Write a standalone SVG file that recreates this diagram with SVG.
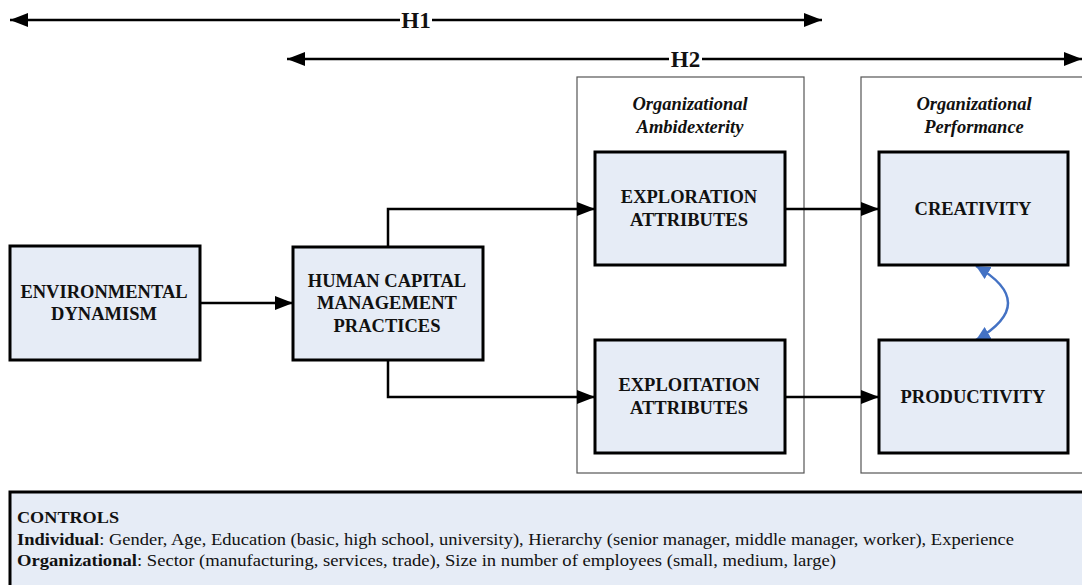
<svg xmlns="http://www.w3.org/2000/svg" width="1082" height="585" viewBox="0 0 1082 585">
<defs>
<marker id="ah" markerUnits="userSpaceOnUse" markerWidth="20" markerHeight="14" refX="18" refY="7" orient="auto-start-reverse">
<path d="M0,0 L18,7 L0,14 Z" fill="#000"/>
</marker>
<marker id="bh" markerUnits="userSpaceOnUse" markerWidth="16" markerHeight="14" refX="14" refY="7" orient="auto-start-reverse">
<path d="M0,0 L14,7 L0,14 Z" fill="#4472C4"/>
</marker>
</defs>
<style>
.box{fill:#E6ECF6;stroke:#000;stroke-width:3}
.cont{fill:none;stroke:#555;stroke-width:1.2}
.t{font-family:"Liberation Serif","Times New Roman",serif;font-weight:bold;font-size:18.5px;text-anchor:middle;fill:#111}
.it{font-family:"Liberation Serif","Times New Roman",serif;font-weight:bold;font-style:italic;font-size:18.5px;text-anchor:middle;fill:#111}
.c{font-family:"Liberation Serif","Times New Roman",serif;font-size:17px;fill:#111}
.ln{fill:none;stroke:#000;stroke-width:2.5}
.h{font-family:"Liberation Serif","Times New Roman",serif;font-weight:bold;font-size:23px;text-anchor:middle;fill:#111}
</style>
<g id="containers">
<rect class="cont" x="577" y="77" width="227" height="396"/>
<rect class="cont" x="861" y="77" width="230" height="396"/>
<text class="it" x="690" y="110">Organizational</text>
<text class="it" x="690" y="133">Ambidexterity</text>
<text class="it" x="974" y="110">Organizational</text>
<text class="it" x="974" y="133">Performance</text>
</g>
<g id="connectors">
<line class="ln" x1="10" y1="20" x2="822" y2="20" marker-start="url(#ah)" marker-end="url(#ah)"/>
<line class="ln" x1="287" y1="59" x2="1082" y2="59" marker-start="url(#ah)" marker-end="url(#ah)"/>
<line class="ln" x1="200" y1="303" x2="293" y2="303" marker-end="url(#ah)"/>
<polyline class="ln" points="388,247 388,209 595,209" marker-end="url(#ah)"/>
<polyline class="ln" points="388,360 388,397 595,397" marker-end="url(#ah)"/>
<line class="ln" x1="785" y1="209" x2="879" y2="209" marker-end="url(#ah)"/>
<line class="ln" x1="785" y1="397" x2="879" y2="397" marker-end="url(#ah)"/>
<path d="M976,266 Q1040,303 976,340" fill="none" stroke="#4472C4" stroke-width="2.5" marker-start="url(#bh)" marker-end="url(#bh)"/>
</g>
<g id="labels">
<rect x="400" y="8" width="32" height="24" fill="#fff"/>
<text class="h" x="416" y="28">H1</text>
<rect x="669" y="47" width="33" height="24" fill="#fff"/>
<text class="h" x="685.5" y="67">H2</text>
</g>
<g id="env">
<rect class="box" x="10" y="246" width="190" height="114"/>
<text class="t" x="104" y="298">ENVIRONMENTAL</text>
<text class="t" x="104" y="319.5">DYNAMISM</text>
</g>
<g id="hcm">
<rect class="box" x="293" y="247" width="190" height="113"/>
<text class="t" x="387" y="287">HUMAN CAPITAL</text>
<text class="t" x="387" y="309">MANAGEMENT</text>
<text class="t" x="387" y="332">PRACTICES</text>
</g>
<g id="exploration">
<rect class="box" x="595" y="152" width="190" height="113"/>
<text class="t" x="689" y="203">EXPLORATION</text>
<text class="t" x="689" y="226">ATTRIBUTES</text>
</g>
<g id="exploitation">
<rect class="box" x="595" y="340" width="190" height="113"/>
<text class="t" x="689" y="391">EXPLOITATION</text>
<text class="t" x="689" y="414">ATTRIBUTES</text>
</g>
<g id="creativity">
<rect class="box" x="879" y="152" width="189" height="113"/>
<text class="t" x="973" y="215">CREATIVITY</text>
</g>
<g id="productivity">
<rect class="box" x="879" y="340" width="189" height="113"/>
<text class="t" x="973" y="403">PRODUCTIVITY</text>
</g>
<g id="controls">
<rect class="box" x="10" y="492" width="1085" height="100"/>
<text class="c" x="17" y="523" font-weight="bold" textLength="102" lengthAdjust="spacingAndGlyphs">CONTROLS</text>
<text class="c" x="17" y="544.5" textLength="997" lengthAdjust="spacingAndGlyphs"><tspan font-weight="bold">Individual</tspan>: Gender, Age, Education (basic, high school, university), Hierarchy (senior manager, middle manager, worker), Experience</text>
<text class="c" x="17" y="566" textLength="819" lengthAdjust="spacingAndGlyphs"><tspan font-weight="bold">Organizational</tspan>: Sector (manufacturing, services, trade), Size in number of employees (small, medium, large)</text>
</g>
</svg>
